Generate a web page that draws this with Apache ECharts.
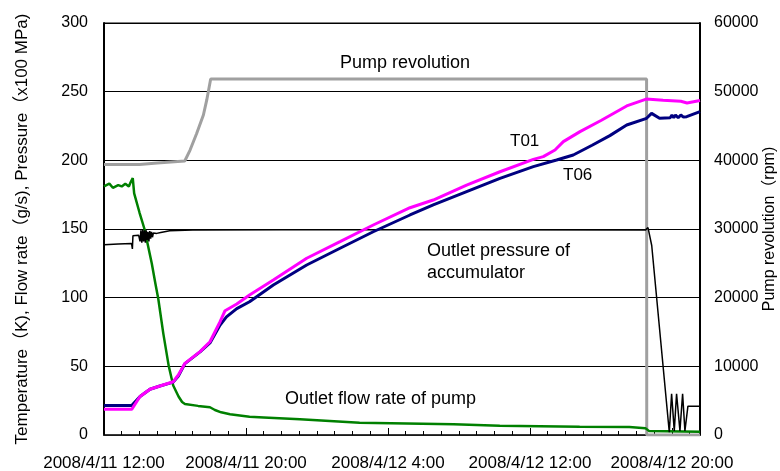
<!DOCTYPE html>
<html>
<head>
<meta charset="utf-8">
<script src="https://cdn.jsdelivr.net/npm/echarts@6/dist/echarts.min.js"></script>
<style>
  html, body { margin: 0; padding: 0; background: #fff; }
  #chart { width: 780px; height: 471px; }
</style>
</head>
<body>
<div id="chart"></div>
<script>
// hours since 2008/4/11 12:00
const tickLabels = ['2008/4/11 12:00', '2008/4/11 20:00', '2008/4/12 4:00', '2008/4/12 12:00', '2008/4/12 20:00']

// pump revolution (rpm, right axis)
const pumpHours = [0, 2.0, 3.0, 4.55, 4.85, 5.22, 5.6, 5.79, 6.01, 12, 20, 30.57, 30.58, 33.58]
const pumpRpm = [39400, 39400, 39600, 39900, 41500, 43900, 46600, 48800, 51850, 51850, 51850, 51850, 0, 0]

// outlet pressure of accumulator (x100 MPa)
const pressHours = [0, 0.8, 1.55, 1.6, 1.63, 1.95, 2.03, 2.08, 2.13, 2.18, 2.23, 2.28, 2.33, 2.38, 2.43, 2.48, 2.53, 2.58, 2.63, 2.68, 2.73, 2.78, 2.97, 3.2, 3.7, 5, 10, 20, 30.5, 30.6, 30.65, 30.86, 31.85, 31.98, 32.13, 32.26, 32.45, 32.6, 32.73, 32.9, 33.58]
const pressValues = [138.5, 139, 139.5, 135.5, 145, 145.5, 141, 149, 140, 149.5, 141, 149, 140, 149, 142, 148, 141, 148.5, 143, 148, 144, 147, 146.8, 147.5, 148.8, 149.3, 149.5, 149.5, 149.2, 148, 151, 138, 2, 30, 3, 30, 3, 30, 3, 21, 21]

// outlet flow rate of pump (g/s)
const flowHours = [0, 0.3, 0.5, 0.8, 1.0, 1.2, 1.4, 1.5, 1.62, 1.7, 2.0, 2.28, 2.69, 2.9, 3.06, 3.34, 3.65, 3.9, 4.2, 4.4, 4.56, 5.3, 5.97, 6.25, 6.6, 7.1, 8.2, 9.0, 11.04, 14.4, 19.7, 22.3, 26.8, 29.6, 30.5, 30.7, 33.58]
const flowValues = [181, 183, 180, 182, 181, 183, 181, 184, 187, 176, 162, 150, 125, 110, 99, 74, 50, 36, 28, 24, 22.6, 21.2, 20.2, 18.2, 16.5, 15.1, 13.3, 12.8, 11.4, 9, 7.8, 6.8, 6, 5.8, 5, 3, 2.4]

// T01 (K)
const t01Hours = [0, 1.56, 2.03, 2.59, 3.15, 3.9, 4.19, 4.56, 5.41, 5.97, 6.54, 6.82, 7.48, 8.2, 9.54, 11.42, 13.3, 15.17, 17.24, 18.55, 20.43, 22.31, 24.19, 24.75, 25.41, 25.88, 26.82, 28, 29.45, 30.55, 31.5, 32.5, 32.85, 33.58]
const t01Values = [18.7, 18.7, 28, 33.3, 35.7, 38.8, 43.7, 52.2, 60.7, 67.9, 82.5, 90.5, 95.4, 102, 112.9, 128.7, 140.8, 152.9, 165.5, 171.1, 182, 191.7, 200.7, 202.7, 207.5, 213.6, 220.9, 229, 239.6, 244.6, 243.8, 243, 241.8, 243.5]

// T06 (K)
const t06Hours = [0, 1.56, 2.03, 2.59, 3.15, 3.9, 4.19, 4.56, 5.41, 5.97, 6.54, 6.9, 7.48, 8.2, 9.54, 11.42, 13.3, 15.17, 17.24, 18.55, 20.43, 22.31, 24.19, 25.5, 26.44, 27.5, 28.5, 29.45, 30.57, 30.85, 31.3, 31.9, 32.0, 32.1, 32.2, 32.35, 32.5, 32.65, 32.83, 33.58]
const t06Values = [21.5, 21.5, 28, 33.3, 35.7, 38.5, 43, 52, 60.5, 67, 80, 86, 92, 97, 109.2, 123.8, 136, 148, 160.2, 167.5, 177.2, 186.9, 195.4, 200.2, 203.9, 211, 218, 225.7, 230.6, 234.2, 230.6, 231, 233, 231, 233, 231, 233, 231.5, 231.8, 235.4]

const zip = (xs, ys) => xs.map((x, i) => [x, ys[i]])

const font = 'Liberation Sans, Arial, Noto Sans CJK JP, sans-serif'
const chart = echarts.init(document.getElementById('chart'))

const option = {
  animation: false,
  textStyle: { fontFamily: font },
  grid: {
    left: 104, right: 80, top: 23, bottom: 36,
    outerBoundsMode: 'none',
    containLabel: false,
    show: true, borderColor: '#000', borderWidth: 1
  },
  xAxis: {
    type: 'value',
    min: 0,
    max: 33.58,
    interval: 8,
    axisLine: { lineStyle: { color: '#222', width: 1.5 } },
    axisTick: { inside: true, length: 7, lineStyle: { color: '#000' } },
    minorTick: { show: true, splitNumber: 8, length: 4, lineStyle: { color: '#000' } },
    splitLine: { show: false },
    axisLabel: {
      margin: 20,
      fontSize: 17,
      color: '#000',
      showMaxLabel: false,
      formatter: v => (v % 8 === 0 ? tickLabels[v / 8] : '')
    }
  },
  yAxis: [
    {
      type: 'value',
      min: 0,
      max: 300,
      interval: 50,
      name: 'Temperature（K), Flow rate（g/s), Pressure（x100 MPa)',
      nameLocation: 'middle',
      nameGap: 82,
      nameMoveOverlap: false,
      nameTextStyle: { fontSize: 17, color: '#000', verticalAlign: 'middle' },
      axisLine: { show: true, lineStyle: { color: '#000', width: 2 } },
      axisTick: { show: false },
      axisLabel: { fontSize: 16, color: '#000', margin: 16 },
      splitLine: { lineStyle: { color: '#000', width: 1 } }
    },
    {
      type: 'value',
      min: 0,
      max: 60000,
      interval: 10000,
      name: 'Pump revolution（rpm)',
      nameLocation: 'middle',
      nameGap: 70,
      nameMoveOverlap: false,
      nameRotate: 90,
      nameTextStyle: { fontSize: 16, color: '#000', verticalAlign: 'middle' },
      axisLine: { show: true, lineStyle: { color: '#000', width: 2 } },
      axisTick: { show: false },
      axisLabel: { fontSize: 16, color: '#000', margin: 14, formatter: v => String(v) },
      splitLine: { show: false }
    }
  ],
  series: [
    {
      name: 'Pump revolution',
      type: 'line',
      yAxisIndex: 1,
      data: zip(pumpHours, pumpRpm),
      showSymbol: false,
      lineStyle: { color: '#a0a0a0', width: 3 }
    },
    {
      name: 'Outlet flow rate of pump',
      type: 'line',
      data: zip(flowHours, flowValues),
      showSymbol: false,
      lineStyle: { color: '#008000', width: 2.5 }
    },
    {
      name: 'Outlet pressure of accumulator',
      type: 'line',
      data: zip(pressHours, pressValues),
      showSymbol: false,
      lineStyle: { color: '#000', width: 1.5 }
    },
    {
      name: 'T06',
      type: 'line',
      data: zip(t06Hours, t06Values),
      showSymbol: false,
      lineStyle: { color: '#000080', width: 3 }
    },
    {
      name: 'T01',
      type: 'line',
      data: zip(t01Hours, t01Values),
      showSymbol: false,
      lineStyle: { color: '#ff00ff', width: 3 }
    }
  ],
  graphic: [
    { type: 'text', left: 340, top: 54, style: { text: 'Pump revolution', font: '18px ' + font, fill: '#000' } },
    { type: 'text', left: 427, top: 240, style: { text: 'Outlet pressure of\naccumulator', font: '18px ' + font, lineHeight: 22, fill: '#000' } },
    { type: 'text', left: 285, top: 390, style: { text: 'Outlet flow rate of pump', font: '18px ' + font, fill: '#000' } },
    { type: 'text', left: 510, top: 133, style: { text: 'T01', font: '17px ' + font, fill: '#000' } },
    { type: 'text', left: 563, top: 167, style: { text: 'T06', font: '17px ' + font, fill: '#000' } }
  ]
}

chart.setOption(option)
</script>
</body>
</html>
